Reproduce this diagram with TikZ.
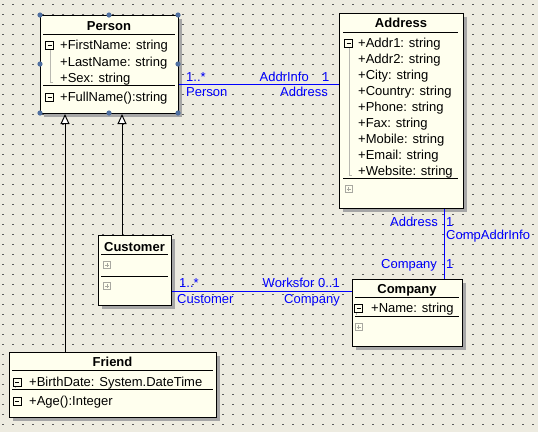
\documentclass[tikz,border=0pt]{standalone}
\usepackage{fontspec}
\setmainfont{Liberation Sans}
\usetikzlibrary{arrows.meta,shadows}
\definecolor{bgcol}{HTML}{EDEBE0}
\definecolor{boxfill}{HTML}{FFFFEE}
\definecolor{griddot}{HTML}{5A5A5A}
\definecolor{assocblue}{HTML}{0000FF}
\definecolor{handlecol}{HTML}{4F6FA0}
\definecolor{treegray}{HTML}{B8B8B0}
\definecolor{plusgray}{HTML}{A8A8A0}
\begin{document}
\begin{tikzpicture}[x=1pt,y=-1pt,
  classbox/.style={draw=black, fill=boxfill, line width=1pt, rectangle, inner sep=0pt, anchor=north west,
    drop shadow={shadow xshift=3pt, shadow yshift=-3pt, fill=black!35, opacity=1}},
  sepline/.style={draw=black, line width=1pt},
  txt/.style={inner sep=0pt, font=\fontsize{13}{15}\selectfont, text height=9.3pt, text depth=0pt},
  attr/.style={txt, anchor=west},
  ctitle/.style={txt, font=\fontsize{13}{15}\selectfont\bfseries, anchor=center},
  lbl/.style={txt, text=assocblue},
  assoc/.style={draw=assocblue, line width=1pt},
  inherit/.style={draw=black, line width=1pt, -{Triangle[open, fill=white, length=10pt, width=9pt]}},
  tree/.style={draw=treegray, line width=0.8pt},
  minusicon/.pic={\draw[black, line width=0.8pt, fill=boxfill] (-4,-4) rectangle (4,4); \draw[black, line width=0.8pt] (-2,0) -- (2,0);},
  plusicon/.pic={\draw[plusgray, line width=0.7pt, fill=boxfill] (-3.5,-3.5) rectangle (3.5,3.5); \draw[plusgray, line width=0.7pt] (-2,0) -- (2,0) (0,-2) -- (0,2);}
]
% background and grid
\fill[bgcol] (0,0) rectangle (538,432);
\useasboundingbox (0,0) rectangle (538,432);
\foreach \i in {0,...,53} {
  \foreach \j in {0,...,42} {
    \fill[griddot] (2+10*\i, 4+10*\j) rectangle ++(2,1);
  }
}

% ---------- Person ----------
\node[classbox, minimum width=138pt, minimum height=98pt] (person) at (40,15) {};
\node[ctitle] (pT) at (109,26) {Person};
\draw[sepline] (43,34) -- (175,34);
\draw[tree] (50,50) -- (50,82) -- (53,82);
\pic at (49.5,45) {minusicon};
\node[attr] (pA1) at (60,45) {+FirstName: string};
\node[attr] (pA2) at (60,61.5) {+LastName: string};
\node[attr] (pA3) at (60,78) {+Sex: string};
\draw[sepline] (43,85) -- (175,85);
\pic at (49.5,97) {minusicon};
\node[attr] (pM1) at (60,97) {+FullName():string};

% ---------- Address ----------
\node[classbox, minimum width=124pt, minimum height=195pt] (address) at (339,13) {};
\node[ctitle] (aT) at (401,23) {Address};
\draw[sepline] (343,32) -- (458,32);
\draw[tree] (349,47) -- (349,175) -- (352,175);
\pic at (348.5,43) {minusicon};
\node[attr] (aA1) at (358,43) {+Addr1: string};
\node[attr] (aA2) at (358,59) {+Addr2: string};
\node[attr] (aA3) at (358,75) {+City: string};
\node[attr] (aA4) at (358,91) {+Country: string};
\node[attr] (aA5) at (358,107) {+Phone: string};
\node[attr] (aA6) at (358,123) {+Fax: string};
\node[attr] (aA7) at (358,139) {+Mobile: string};
\node[attr] (aA8) at (358,155) {+Email: string};
\node[attr] (aA9) at (358,171) {+Website: string};
\draw[sepline] (343,178) -- (458,178);
\pic at (348.5,189) {plusicon};

% ---------- Customer ----------
\node[classbox, minimum width=73pt, minimum height=70pt] (customer) at (98,235) {};
\node[ctitle] (cT) at (134.5,247) {Customer};
\draw[sepline] (101,254) -- (168,254);
\pic at (107,265) {plusicon};
\draw[sepline] (101,276) -- (168,276);
\pic at (107,286) {plusicon};

% ---------- Company ----------
\node[classbox, minimum width=110pt, minimum height=67pt] (company) at (352,279) {};
\node[ctitle] (coT) at (407,289) {Company};
\draw[sepline] (355,297) -- (459,297);
\draw[tree] (356,312) -- (356,315);
\pic at (358.5,308) {minusicon};
\node[attr] (coA1) at (371,308) {+Name: string};
\draw[sepline] (355,316) -- (459,316);
\pic at (358.5,327) {plusicon};

% ---------- Friend ----------
\node[classbox, minimum width=207pt, minimum height=65pt] (friend) at (9,352) {};
\node[ctitle] (fT) at (112.5,362) {Friend};
\draw[sepline] (12,370) -- (213,370);
\draw[tree] (15,386) -- (15,388);
\pic at (17,382) {minusicon};
\node[attr] (fA1) at (29,382) {+BirthDate: System.DateTime};
\draw[sepline] (12,389) -- (213,389);
\pic at (17,401) {minusicon};
\node[attr] (fM1) at (29,401) {+Age():Integer};

% ---------- connectors ----------
\coordinate (yPA) at (0,84);
\coordinate (yCC) at (0,291);
\coordinate (xAC) at (444,0);
\coordinate (xF) at (65,0);
\coordinate (xC) at (122,0);

\draw[assoc] (person.east |- yPA) -- (address.west |- yPA);
\draw[assoc] (customer.east |- yCC) -- (company.west |- yCC);
\draw[assoc] (address.south -| xAC) -- (company.north -| xAC);

\draw[inherit] (friend.north -| xF) -- (person.south -| xF);
\draw[inherit] (customer.north -| xC) -- (person.south -| xC);

% labels
\node[lbl, anchor=west] (l1) at (186,77) {1..*};
\node[lbl, anchor=west] (l2) at (186,92) {Person};
\node[lbl, anchor=east] (l3) at (309,77) {AddrInfo};
\node[lbl, anchor=west] (l4) at (322,77) {1};
\node[lbl, anchor=east] (l5) at (328,92) {Address};

\node[lbl, anchor=west] (l6) at (179,283) {1..*};
\node[lbl, anchor=west] (l7) at (177,299) {Customer};
\node[lbl, anchor=east] (l8) at (340,283) {Worksfor 0..1};
\node[lbl, anchor=east] (l9) at (340,299) {Company};

\node[lbl, anchor=east] (l10) at (438,222) {Address};
\node[lbl, anchor=west] (l11) at (446,222) {1};
\node[lbl, anchor=west] (l12) at (446,235) {CompAddrInfo};
\node[lbl, anchor=east] (l13) at (437,264) {Company};
\node[lbl, anchor=west] (l14) at (446,264) {1};

% selection handles
\foreach \p in {(40,15),(109,15),(178,15),(40,64),(178,64),(40,113),(109,113),(178,113)} {
  \fill[handlecol] \p circle (2.6);
}
\end{tikzpicture}
\end{document}
